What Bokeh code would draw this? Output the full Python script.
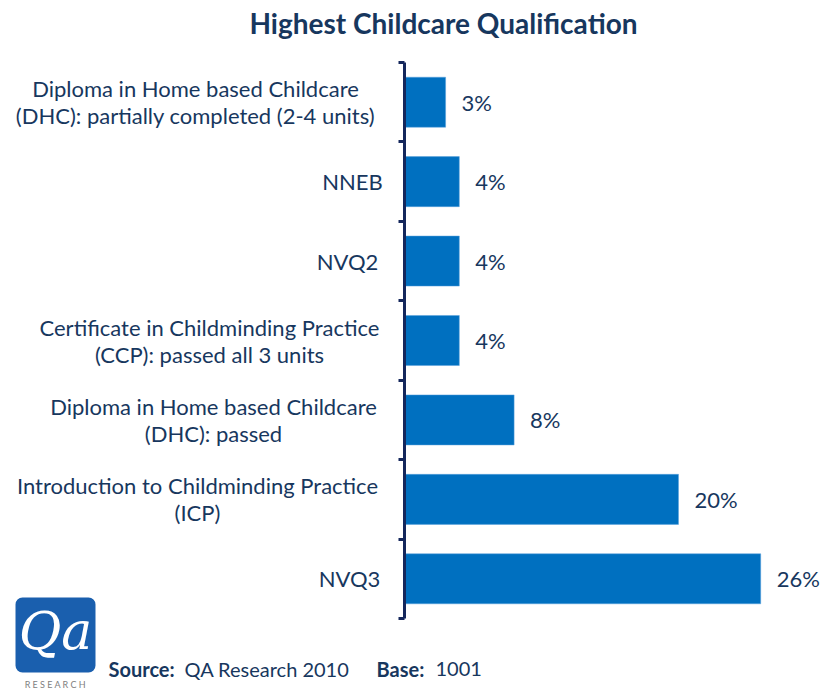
from bokeh.plotting import figure
from bokeh.models import (ColumnDataSource, LabelSet, Label, Range1d, FixedTicker,
                          BoxAnnotation, CustomJSTickFormatter)
from bokeh.core.properties import value
from bokeh.embed import file_html
from bokeh.resources import INLINE

# ---- data ----
categories = [
    "Diploma in Home based Childcare\n(DHC): partially completed (2-4 units)",
    "NNEB",
    "NVQ2",
    "Certificate in Childminding Practice\n(CCP): passed all 3 units",
    "Diploma in Home based Childcare\n(DHC): passed",
    "Introduction to Childminding Practice\n(ICP)",
    "NVQ3",
]
values = [3, 4, 4, 4, 8, 20, 26]
title_text = "Highest Childcare Qualification"
source_label = "Source:"
source_value = "QA Research 2010"
base_label = "Base:"
base_value = "1001"

# ---- layout / style (pixel geometry, not data) ----
W, H = 822, 691
FRAME_L = 14
X0_PX, PX_PER_PCT = 404, 13.7
TOP_PX, BOT_PX = 62, 618
LINE_GAP_PX = 27
label_center_offsets = [-209, -52, -57, -195, -191, -207, -55]
NAVY = "#17375e"
AXIS = "#14275c"
BAR = "#0070c0"
FONT = "Lato"

N = len(categories)
cat_h = (BOT_PX - TOP_PX) / N


def xd(px):
    return (px - X0_PX) / PX_PER_PCT


def yd(py):
    return (BOT_PX - py) / cat_h - 0.5


ypos = [N - 1 - i for i in range(N)]
src = ColumnDataSource(dict(y=ypos, v=values, lab=[f"{v}%" for v in values]))

# one row per text line of each category label, lines centred on a common x
line_rows = dict(x=[], y=[], text=[], off=[])
for cat, yc, off in zip(categories, ypos, label_center_offsets):
    lines = cat.split("\n")
    n = len(lines)
    for k, ln in enumerate(lines):
        shift_px = ((n - 1) / 2 - k) * LINE_GAP_PX
        line_rows["x"].append(0)
        line_rows["y"].append(yc + shift_px / cat_h)
        line_rows["text"].append(ln)
        line_rows["off"].append(off)
line_src = ColumnDataSource(line_rows)

p = figure(width=W, height=H, output_backend="svg", toolbar_location=None,
           x_range=Range1d(xd(FRAME_L), xd(W)), y_range=Range1d(yd(H), yd(0)),
           x_axis_location=None, min_border_left=FRAME_L, min_border_right=0,
           min_border_top=0, min_border_bottom=0)
p.outline_line_color = None
p.xgrid.visible = False
p.ygrid.visible = False
p.background_fill_color = "white"
p.border_fill_color = "white"

ya = p.yaxis[0]
ya.fixed_location = 0
ya.bounds = (-0.5, N - 0.5)
ya.ticker = FixedTicker(ticks=[i - 0.5 for i in range(N + 1)])
ya.formatter = CustomJSTickFormatter(code="return ''")
ya.major_label_standoff = 0
ya.axis_line_width = 3
ya.axis_line_color = AXIS
ya.major_tick_line_width = 3
ya.major_tick_line_color = AXIS
ya.major_tick_out = 6
ya.major_tick_in = 0
ya.minor_tick_line_color = None

p.hbar(y="y", left=0, right="v", height=0.63, source=src, fill_color=BAR,
       line_color="#5aa0dc", line_width=0.5)

p.add_layout(LabelSet(x="x", y="y", text="text", x_offset="off", source=line_src,
                      text_align="center", text_baseline="middle",
                      text_font=value(FONT), text_font_size="22px",
                      text_color=NAVY))
p.add_layout(LabelSet(x="v", y="y", text="lab", x_offset=16, source=src,
                      text_align="left", text_baseline="middle",
                      text_font=value(FONT), text_font_size="22px",
                      text_color=NAVY))

# title
p.add_layout(Label(x=xd(443), y=yd(22), text=title_text,
                   text_align="center", text_baseline="middle", text_font=FONT,
                   text_font_style="bold", text_font_size="28px", text_color=NAVY))

# logo
p.add_layout(BoxAnnotation(left=xd(15), right=xd(95), bottom=yd(672), top=yd(597),
                           fill_color="#1a5fae", fill_alpha=1, line_color=None,
                           border_radius=7))
p.add_layout(Label(x=xd(55), y=yd(630), text="Qa",
                   text_align="center", text_baseline="middle",
                   text_font="DejaVu Serif", text_font_style="italic",
                   text_font_size="52px", text_color="white"))
p.add_layout(Label(x=xd(55), y=yd(684), text="R E S E A R C H",
                   text_align="center", text_baseline="middle",
                   text_font=FONT, text_font_size="9px", text_color="#808080"))

# source line
for txt, xp, style in [(source_label, 108, "bold"), (source_value, 184, "normal"),
                       (base_label, 376, "bold"), (base_value, 435, "normal")]:
    p.add_layout(Label(x=xd(xp), y=yd(668), text=txt,
                       text_align="left", text_baseline="alphabetic",
                       text_font=FONT, text_font_style=style,
                       text_font_size="20px", text_color=NAVY))

open("out.html", "w").write(file_html(p, INLINE))
